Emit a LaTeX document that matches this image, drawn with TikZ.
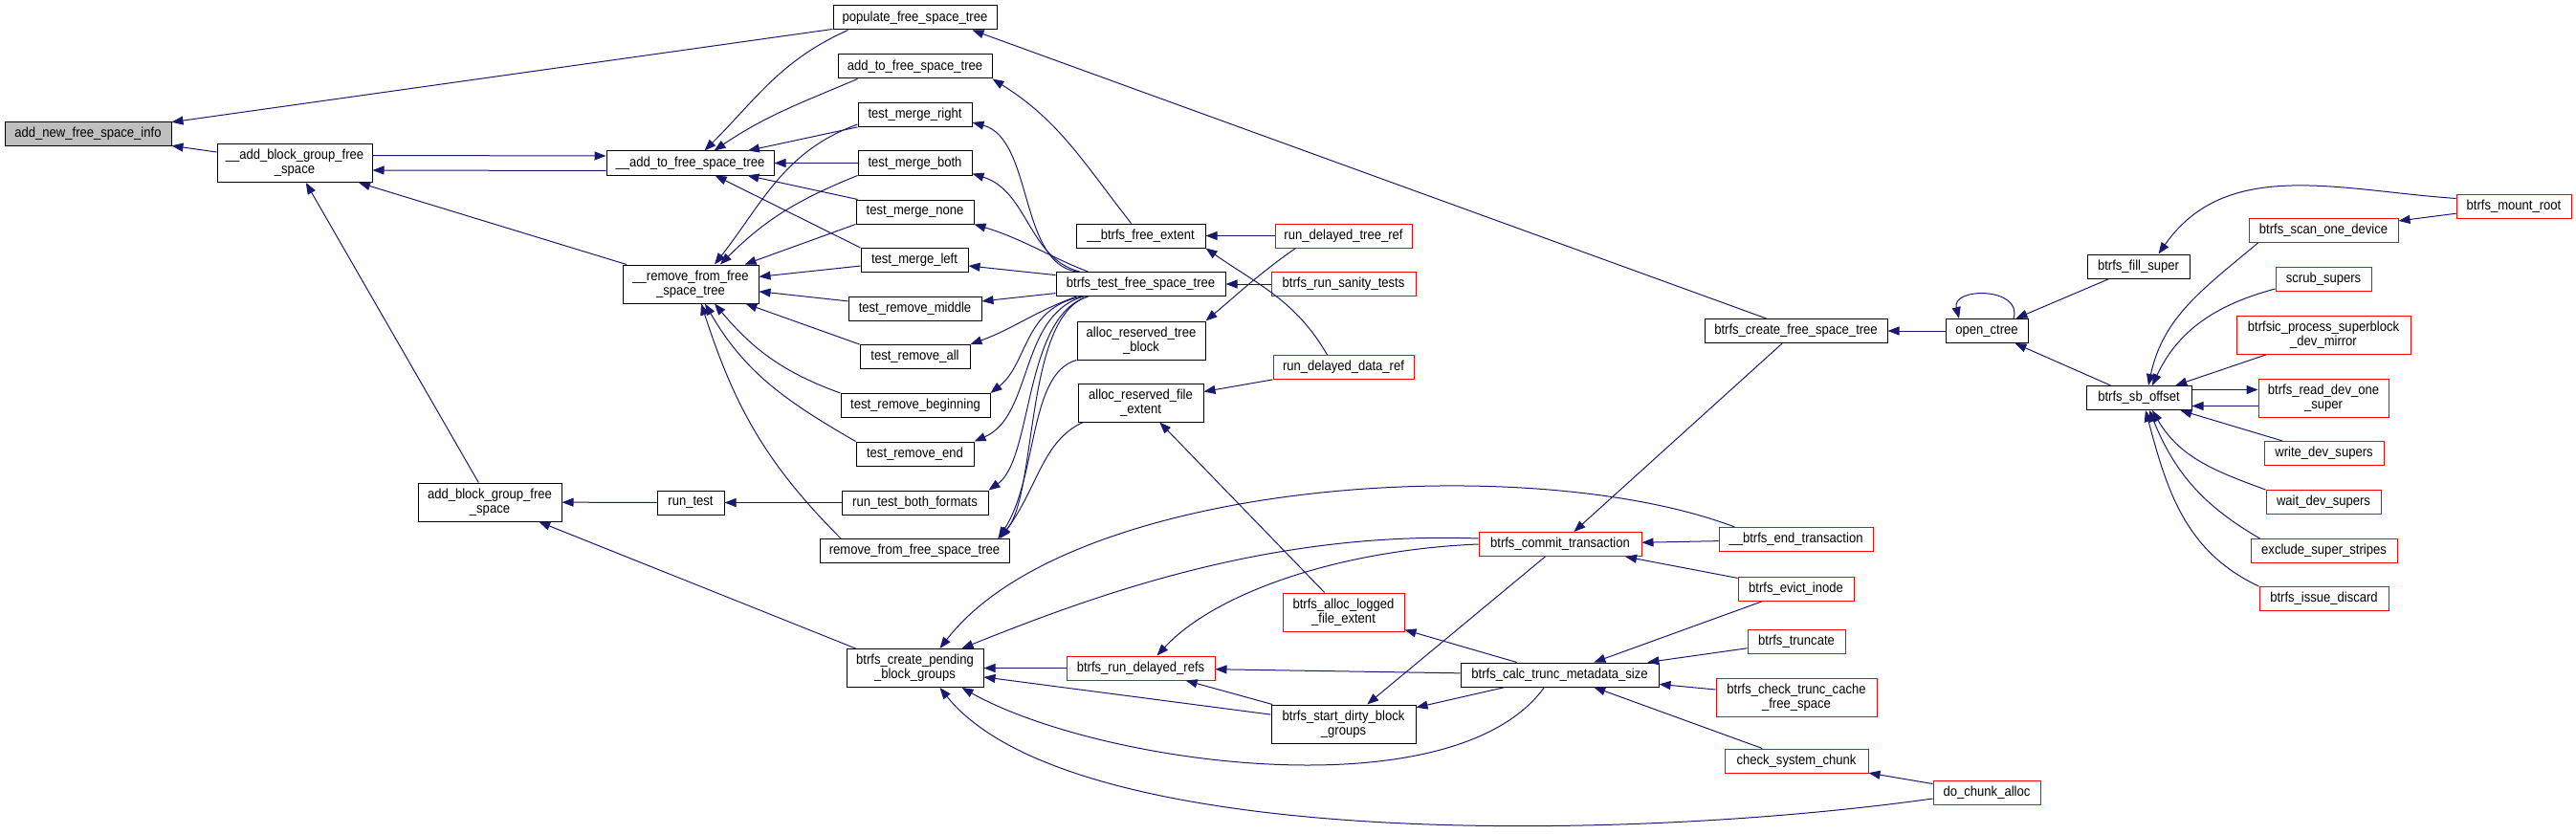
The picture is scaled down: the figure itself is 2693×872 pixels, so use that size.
\documentclass[tikz,border=0pt]{standalone}
\usepackage{fontspec}
\setmainfont{Liberation Sans}[FakeStretch=0.9]
\usetikzlibrary{positioning, arrows.meta, calc}

\definecolor{edgeblue}{RGB}{25,25,112}
\definecolor{rootgray}{RGB}{191,191,191}
\definecolor{boxred}{RGB}{255,0,0}

\begin{document}
\begin{tikzpicture}[
    x=1pt, y=1pt,
    % Node styles
    funcbox/.style={
        draw=black, fill=white, line width=1pt, inner sep=0pt,
        minimum height=25pt, align=center,
        font=\fontsize{14.5}{15}\selectfont
    },
    twoline/.style={minimum height=40pt},
    rootbox/.style={funcbox, fill=rootgray},
    redbox/.style={funcbox, draw=boxred},
    % Arrow style - the tip sits on the called function
    callarrow/.style={{Triangle[length=12pt, width=9pt]}-, edgeblue, line width=1pt},
]

\useasboundingbox (0,0) rectangle (2693,-872);

% ============================================================
% NODES (one column per call depth, left to right)
% ============================================================

% --- Column 1-2 ---
\node[rootbox, minimum width=174pt] (newinfo) at (92,-140) {add\_new\_free\_space\_info};
\node[funcbox, twoline, minimum width=162pt] (addbg) at (308,-170.5) {\_\_add\_block\_group\_free\\\_space};
\node[funcbox, twoline, minimum width=150pt] (addbgp) at (512,-525) {add\_block\_group\_free\\\_space};

% --- Column 3 ---
\node[funcbox, minimum width=175pt] (addto) at (721.5,-170.5) {\_\_add\_to\_free\_space\_tree};
\node[funcbox, twoline, minimum width=142pt] (rmfrom) at (722,-297) {\_\_remove\_from\_free\\\_space\_tree};
\node[funcbox, minimum width=70pt] (runtest) at (722,-525.5) {run\_test};

% --- Column 4: the test functions ---
\node[funcbox, minimum width=171pt] (populate) at (956.5,-18.5) {populate\_free\_space\_tree};
\node[funcbox, minimum width=161pt] (addtofst) at (956.5,-69.5) {add\_to\_free\_space\_tree};
\node[funcbox, minimum width=119pt] (tmright) at (956.5,-120) {test\_merge\_right};
\node[funcbox, minimum width=119pt] (tmboth) at (956.5,-170.5) {test\_merge\_both};
\node[funcbox, minimum width=123pt] (tmnone) at (956.5,-221.5) {test\_merge\_none};
\node[funcbox, minimum width=112pt] (tmleft) at (956,-272) {test\_merge\_left};
\node[funcbox, minimum width=139pt] (trmiddle) at (956.5,-322.5) {test\_remove\_middle};
\node[funcbox, minimum width=115pt] (trall) at (956.5,-373) {test\_remove\_all};
\node[funcbox, minimum width=156pt] (trbegin) at (957,-424) {test\_remove\_beginning};
\node[funcbox, minimum width=123pt] (trend) at (956.5,-474.5) {test\_remove\_end};
\node[funcbox, minimum width=153pt] (rtboth) at (956.5,-525.5) {run\_test\_both\_formats};
\node[funcbox, minimum width=198pt] (rmfst) at (956,-576) {remove\_from\_free\_space\_tree};
\node[funcbox, twoline, minimum width=143pt] (pending) at (956.5,-698.5) {btrfs\_create\_pending\\\_block\_groups};

% --- Column 5 ---
\node[funcbox, minimum width=135pt] (bfreeext) at (1192.5,-246.5) {\_\_btrfs\_free\_extent};
\node[funcbox, minimum width=177pt] (testfst) at (1192.5,-297) {btrfs\_test\_free\_space\_tree};
\node[funcbox, twoline, minimum width=134pt] (allocTree) at (1193,-356) {alloc\_reserved\_tree\\\_block};
\node[funcbox, twoline, minimum width=131pt] (allocFile) at (1192.5,-421) {alloc\_reserved\_file\\\_extent};
\node[redbox, minimum width=155pt] (rundelrefs) at (1192.5,-698.5) {btrfs\_run\_delayed\_refs};

% --- Column 6 ---
\node[redbox, minimum width=143pt] (rdtree) at (1404.5,-246.5) {run\_delayed\_tree\_ref};
\node[redbox, minimum width=151pt] (sanity) at (1404.5,-297) {btrfs\_run\_sanity\_tests};
\node[redbox, minimum width=147pt] (rddata) at (1404.5,-384) {run\_delayed\_data\_ref};
\node[redbox, twoline, minimum width=127pt] (logged) at (1404.5,-640) {btrfs\_alloc\_logged\\\_file\_extent};
\node[funcbox, twoline, minimum width=151pt] (dirty) at (1404.5,-757) {btrfs\_start\_dirty\_block\\\_groups};

% --- Column 7 ---
\node[redbox, minimum width=170pt] (commit) at (1631,-569) {btrfs\_commit\_transaction};
\node[funcbox, minimum width=207pt] (calc) at (1630.5,-705.5) {btrfs\_calc\_trunc\_metadata\_size};

% --- Column 8 ---
\node[funcbox, minimum width=191pt] (createfst) at (1877.5,-346) {btrfs\_create\_free\_space\_tree};
\node[redbox, minimum width=161pt] (endtrans) at (1877.5,-564) {\_\_btrfs\_end\_transaction};
\node[redbox, minimum width=121pt] (evict) at (1877.5,-616) {btrfs\_evict\_inode};
\node[redbox, minimum width=102pt] (truncate) at (1878,-670.5) {btrfs\_truncate};
\node[redbox, twoline, minimum width=168pt] (checktrunc) at (1878,-729) {btrfs\_check\_trunc\_cache\\\_free\_space};
\node[redbox, minimum width=150pt] (syschunk) at (1878,-795.5) {check\_system\_chunk};

% --- Column 9 ---
\node[funcbox, minimum width=86pt] (openctree) at (2077,-346) {open\_ctree};
\node[redbox, minimum width=112pt] (chunkalloc) at (2077,-829) {do\_chunk\_alloc};

% --- Column 10 ---
\node[funcbox, minimum width=107pt] (fillsuper) at (2235.5,-278.5) {btrfs\_fill\_super};
\node[funcbox, minimum width=110pt] (sboffset) at (2236,-416) {btrfs\_sb\_offset};

% --- Column 11 ---
\node[redbox, minimum width=156pt] (scanone) at (2429,-241) {btrfs\_scan\_one\_device};
\node[redbox, minimum width=100pt] (scrub) at (2429,-292) {scrub\_supers};
\node[redbox, twoline, minimum width=182pt] (btrfsic) at (2429,-350.5) {btrfsic\_process\_superblock\\\_dev\_mirror};
\node[redbox, twoline, minimum width=136pt] (readdev) at (2429,-416) {btrfs\_read\_dev\_one\\\_super};
\node[redbox, minimum width=125pt] (writedev) at (2429.5,-474) {write\_dev\_supers};
\node[redbox, minimum width=120pt] (waitdev) at (2429,-525) {wait\_dev\_supers};
\node[redbox, minimum width=153pt] (exclude) at (2429.5,-576) {exclude\_super\_stripes};
\node[redbox, minimum width=135pt] (discard) at (2429.5,-626) {btrfs\_issue\_discard};

% --- Column 12 ---
\node[redbox, minimum width=120pt] (mountroot) at (2628,-215.5) {btrfs\_mount\_root};

% ============================================================
% CALL EDGES (tip on the callee)
% ============================================================

% --- Left part ---
\draw[callarrow] (newinfo) -- (populate);
\draw[callarrow] (newinfo) -- (addbg);
\draw[callarrow] ([yshift=7.5pt]addto.west) -- ([yshift=8pt]addbg.east);
\draw[callarrow] ([yshift=-7.5pt]addbg.east) -- ([yshift=-8pt]addto.west);
\draw[callarrow] (addbg) -- (rmfrom);
\draw[callarrow] (addbg) -- (addbgp);
\draw[callarrow] (addbgp) -- (runtest);
\draw[callarrow] (addbgp) -- ([xshift=10pt]pending.north west);
\draw[callarrow] (runtest) -- (rtboth);

% --- Into __add_to_free_space_tree ---
\draw[callarrow] ([xshift=15pt]addto.north) to[out=45, in=204] ([xshift=-70pt]populate.south);
\draw[callarrow] ([xshift=25pt]addto.north) to[out=34, in=203] ([xshift=-60pt]addtofst.south);
\draw[callarrow] (addto) -- (tmright);
\draw[callarrow] (addto) -- (tmboth);
\draw[callarrow] (addto) -- (tmnone);
\draw[callarrow] (addto) -- (tmleft.north west);

% --- Into __remove_from_free_space_tree ---
\draw[callarrow] ([xshift=25pt]rmfrom.north) to[out=52, in=200] ([yshift=-10pt]tmright.west);
\draw[callarrow] ([xshift=31pt]rmfrom.north) to[out=45, in=202] (tmboth.south west);
\draw[callarrow] (rmfrom) -- (tmnone.south west);
\draw[callarrow] (rmfrom) -- (tmleft);
\draw[callarrow] (rmfrom) -- (trmiddle);
\draw[callarrow] (rmfrom) -- (trall.north west);
\draw[callarrow] ([xshift=25pt]rmfrom.south) to[out=-50, in=160] (trbegin.north west);
\draw[callarrow] ([xshift=15pt]rmfrom.south) to[out=-60, in=150] (trend.north west);
\draw[callarrow] ([xshift=11pt]rmfrom.south) to[out=-72, in=135] ([xshift=-77pt]rmfst.north);

% --- Out of btrfs_test_free_space_tree ---
\draw[callarrow] ([yshift=-8pt]tmright.east) .. controls (1080,-145) and (1065,-275) .. ([xshift=-67pt]testfst.north);
\draw[callarrow] ([yshift=-11pt]tmboth.east) .. controls (1075,-200) and (1075,-270) .. ([xshift=-64pt]testfst.north);
\draw[callarrow] (tmnone.south east) .. controls (1070,-250) and (1100,-270) .. ([xshift=-55pt]testfst.north);
\draw[callarrow] (tmleft) -- (testfst);
\draw[callarrow] (trmiddle) -- (testfst);
\draw[callarrow] (trall.north east) to[out=20, in=200] ([xshift=-67pt]testfst.south);
\draw[callarrow] (trbegin.north east) .. controls (1075,-380) and (1070,-320) .. ([xshift=-60pt]testfst.south);
\draw[callarrow] (trend.north east) .. controls (1080,-435) and (1065,-330) .. ([xshift=-60pt]testfst.south);
\draw[callarrow] (rtboth.north east) .. controls (1080,-480) and (1070,-330) .. ([xshift=-55pt]testfst.south);
\draw[callarrow] ([xshift=-12pt]rmfst.north east) .. controls (1085,-520) and (1070,-330) .. ([xshift=-55pt]testfst.south);
\draw[callarrow] ([xshift=-12pt]rmfst.north east) .. controls (1085,-500) and (1075,-390) .. (allocTree.south west);
\draw[callarrow] ([xshift=-10pt]rmfst.north east) .. controls (1085,-510) and (1090,-460) .. ([xshift=6pt]allocFile.south west);
\draw[callarrow] (testfst) -- (sanity);

% --- Extent allocation and freeing ---
\draw[callarrow] (addtofst.south east) to[out=-32, in=128] ([xshift=-10pt]bfreeext.north);
\draw[callarrow] (bfreeext) -- (rdtree);
\draw[callarrow] (bfreeext.south east) to[out=-35, in=120] ([xshift=-17pt]rddata.north);
\draw[callarrow] (allocTree.north east) to[out=40, in=215] ([xshift=22pt]rdtree.south west);
\draw[callarrow] (allocFile) -- (rddata);
\draw[callarrow] (allocFile) -- (logged);

% --- Mount path ---
\draw[callarrow] ([xshift=-26pt]populate.south east) -- ([xshift=-31pt]createfst.north);
\draw[callarrow] (createfst) -- (openctree);
\draw[callarrow] (commit) -- (createfst);
\draw[callarrow] ([xshift=-29pt]openctree.north) .. controls (2040,-300) and (2115,-300) .. ([xshift=28pt]openctree.north);
\draw[callarrow] (openctree) -- (fillsuper);
\draw[callarrow] (openctree) -- (sboffset);
\draw[callarrow] ([xshift=21pt]fillsuper.north) to[out=55, in=176] ([yshift=8pt]mountroot.west);
\draw[callarrow] (scanone) -- (mountroot);

% --- Into btrfs_sb_offset ---
\draw[callarrow] ([xshift=10pt]sboffset.north) to[out=78, in=220] ([xshift=10pt]scanone.south west);
\draw[callarrow] ([xshift=14pt]sboffset.north) to[out=65, in=195] ([yshift=-10pt]scrub.west);
\draw[callarrow] (sboffset) -- (btrfsic);
\draw[callarrow] ([yshift=8.5pt]readdev.west) -- ([yshift=8.5pt]sboffset.east);
\draw[callarrow] ([yshift=-8.5pt]sboffset.east) -- ([yshift=-8.5pt]readdev.west);
\draw[callarrow] (sboffset) -- (writedev);
\draw[callarrow] ([xshift=14pt]sboffset.south) to[out=-60, in=160] (waitdev.north west);
\draw[callarrow] ([xshift=11pt]sboffset.south) to[out=-68, in=150] ([xshift=10pt]exclude.north west);
\draw[callarrow] ([xshift=7pt]sboffset.south) to[out=-75, in=155] (discard.north west);

% --- Transaction commit and block groups ---
\draw[callarrow] ([xshift=26pt]pending.north) .. controls (1120,-500) and (1600,-470) .. ([xshift=17pt]endtrans.north west);
\draw[callarrow] ([xshift=49pt]pending.north) .. controls (1150,-620) and (1330,-555) .. ([yshift=6pt]commit.west);
\draw[callarrow] ([xshift=17pt]rundelrefs.north) .. controls (1270,-620) and (1400,-575) .. (commit.west);
\draw[callarrow] (pending) -- (rundelrefs);
\draw[callarrow] (pending) -- (dirty);
\draw[callarrow] ([xshift=49pt]pending.south) .. controls (1150,-800) and (1520,-850) .. ([xshift=-16pt]calc.south);
\draw[callarrow] ([xshift=26pt]pending.south) .. controls (1120,-890) and (1700,-880) .. ([yshift=-6pt]chunkalloc.west);
\draw[callarrow] (rundelrefs) -- (calc);
\draw[callarrow] (rundelrefs) -- (dirty);
\draw[callarrow] (logged) -- (calc);
\draw[callarrow] (dirty) -- (commit);
\draw[callarrow] (dirty) -- (calc);
\draw[callarrow] (commit) -- (endtrans);
\draw[callarrow] (commit) -- (evict);
\draw[callarrow] (calc) -- (evict);
\draw[callarrow] (calc) -- (truncate);
\draw[callarrow] (calc) -- (checktrunc);
\draw[callarrow] (calc) -- (syschunk);
\draw[callarrow] (syschunk) -- (chunkalloc);

\end{tikzpicture}
\end{document}
